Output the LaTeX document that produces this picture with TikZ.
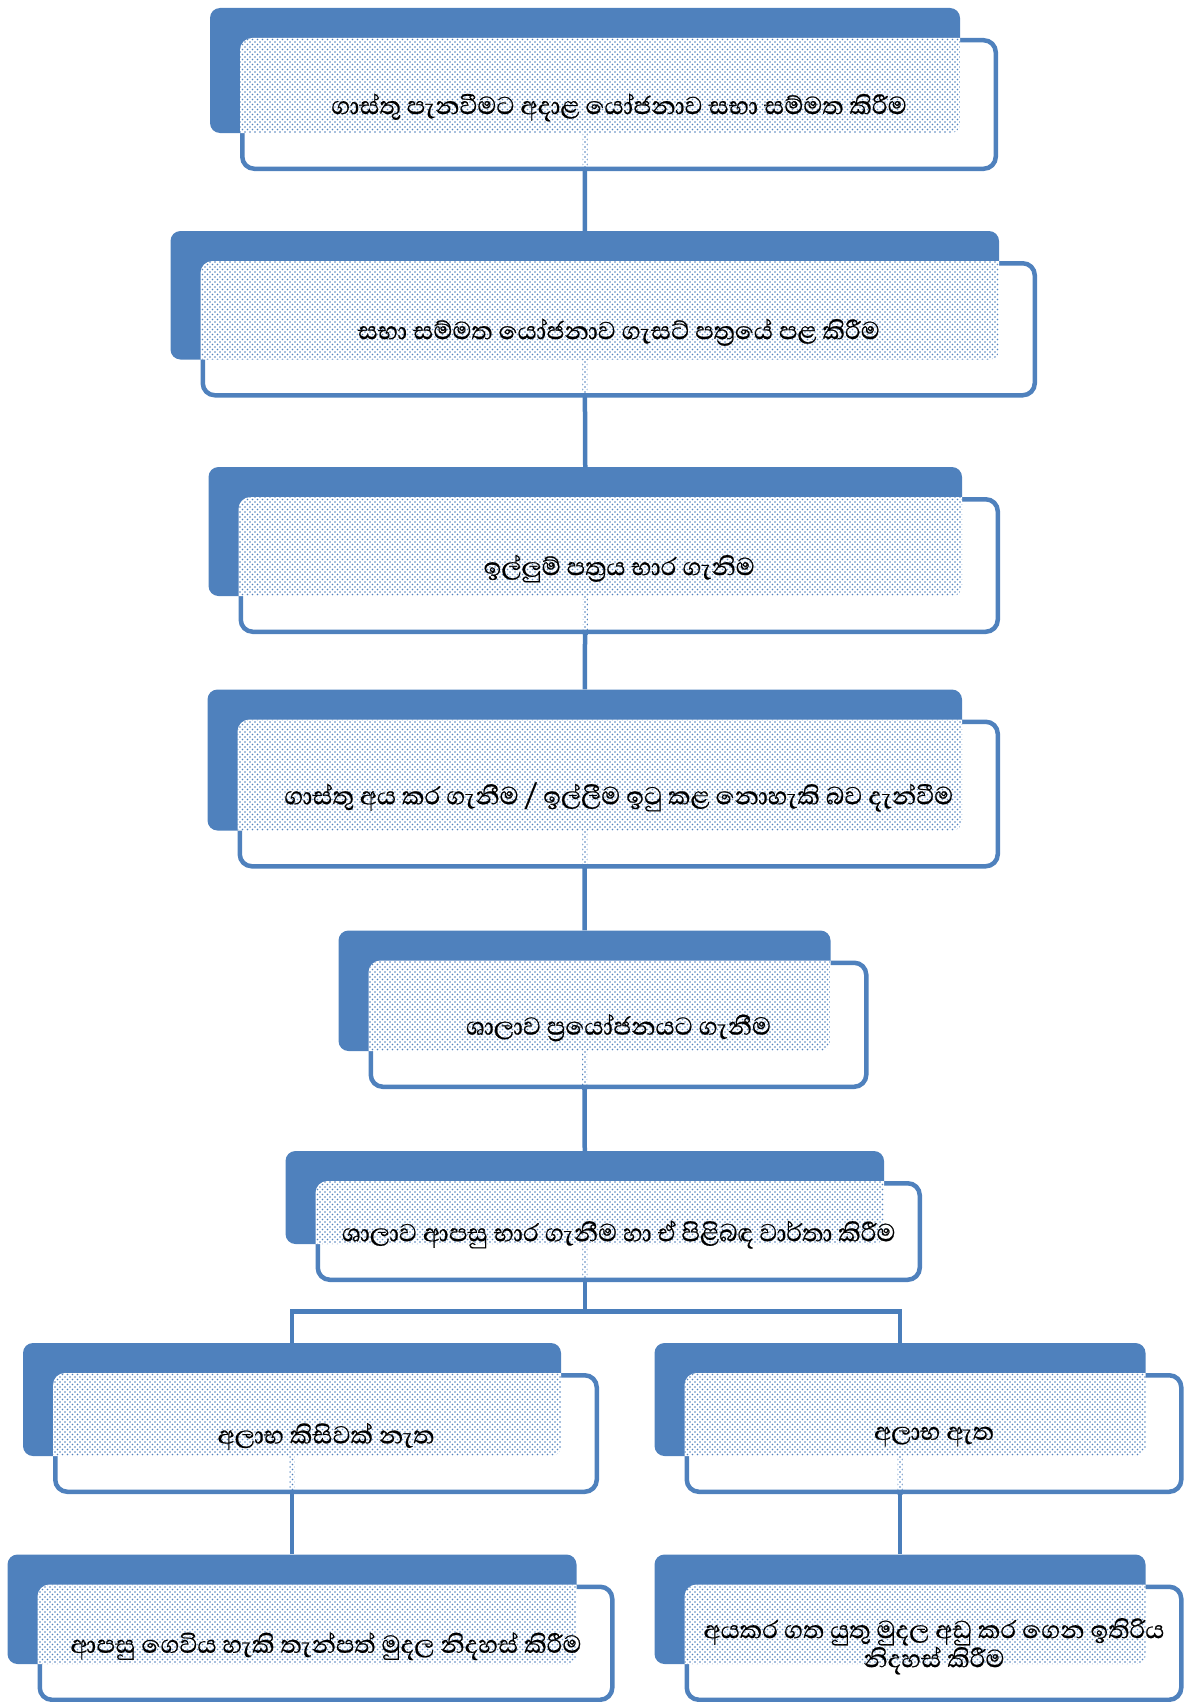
\documentclass[tikz,border=0pt]{standalone}
\usepackage{fontspec}
\newfontfamily\sinhala[Script=Sinhala, FakeBold=0.6]{Abhaya Libre}
\usetikzlibrary{patterns.meta,calc}
\definecolor{accent}{HTML}{4F81BD}
\definecolor{connblue}{HTML}{4A7EBB}
\definecolor{dotblue}{HTML}{4F81BD}
\pgfdeclarelayer{bg}
\pgfsetlayers{bg,main}
\tikzset{
  backbox/.style={draw=none, fill=accent, rounded corners=10pt, inner sep=0pt},
  frontbox/.style={draw=accent, line width=4.5pt, fill=white, rounded corners=12pt, inner sep=0pt},
  steplabel/.style={font=\sinhala\fontsize{31.5}{29}\selectfont, align=center, inner sep=0pt},
  conn/.style={draw=connblue, line width=4.5pt},
  dotfill/.style={pattern={Dots[distance=5pt, radius=0.9pt]}, pattern color=dotblue},
  dotfilltwo/.style={pattern={Dots[distance=5pt, radius=0.9pt, xshift=2.5pt, yshift=2.5pt]}, pattern color=dotblue},
}
\newcommand\flowitem[6]{%
  \node[backbox, minimum width={#4-#2}, minimum height={#5-#3}] (#1b) at ({(#2+#4)/2},{(#3+#5)/2}) {};
  \node[frontbox, minimum width={#4-#2+3.5}, minimum height={#5-#3+3.5}] (#1) at ({(#2+#4)/2+34},{(#3+#5)/2+34}) {};
  \begin{scope}
    \clip[rounded corners=12pt] (#1.south west) rectangle (#1.north east);
    \fill[white, rounded corners=10pt] (#1b.south west) rectangle (#1b.north east);
    \fill[dotfill, rounded corners=10pt] (#1b.south west) rectangle (#1b.north east);
    \fill[dotfilltwo, rounded corners=10pt] (#1b.south west) rectangle (#1b.north east);
  \end{scope}
  \node[steplabel] (#1t) at ([yshift=-3pt]#1.center) {#6};
}
\newcommand\dotseg[1]{%
  \path (#1b.south) ++(-2.5,0) coordinate (#1dl);
  \path (#1b.south) ++(2.5,0) coordinate (#1dr);
  \fill[dotfill] (#1dl) rectangle (#1dr |- #1.south);
  \fill[dotfilltwo] (#1dl) rectangle (#1dr |- #1.south);
}
\begin{document}
\begin{tikzpicture}[x=1pt,y=-1pt]
\useasboundingbox (0,0) rectangle (1191,1702);
\flowitem{s1}{210}{8}{960}{133}{ගාස්තු පැනවීමට අදාළ යෝජනාව සභා සම්මත කිරීම}
\flowitem{s2}{170.5}{231}{999}{359.5}{සභා සම්මත යෝජනාව ගැසට් පත්‍රයේ පළ කිරීම}
\flowitem{s3}{208.5}{467}{962}{596}{ඉල්ලුම් පත්‍රය භාර ගැනිම}
\flowitem{s4}{207.5}{689.5}{962}{830.5}{ගාස්තු අය කර ගැනීම / ඉල්ලීම ඉටු කළ නොහැකි බව දැන්වීම}
\flowitem{s5}{338.5}{930.5}{830.5}{1051}{ශාලාව ප්‍රයෝජනයට ගැනීම}
\flowitem{s6}{285.5}{1151}{884}{1244}{ශාලාව ආපසු භාර ගැනීම හා ඒ පිළිබඳ වාර්තා කිරීම}
\flowitem{s7}{23}{1343}{561}{1456}{අලාභ කිසිවක් නැත}
\flowitem{s8}{654.5}{1343}{1145.5}{1456}{අලාභ ඇත}
\flowitem{s9}{7.5}{1554.5}{576.5}{1664}{ආපසු ගෙවිය හැකි තැන්පත් මුදල නිදහස් කිරීම}
\flowitem{s10}{654.5}{1554.5}{1145.5}{1664}{අයකර ගත යුතු මුදල අඩු කර ගෙන ඉතිරිය\\නිදහස් කිරීම}
\dotseg{s1}\dotseg{s2}\dotseg{s3}\dotseg{s4}\dotseg{s5}\dotseg{s6}\dotseg{s7}\dotseg{s8}
\coordinate (jn) at (585,1311.5);
\begin{pgfonlayer}{bg}
  \draw[conn] (s1b.south) -- (s2b.north);
  \draw[conn] (s2b.south) -- (s3b.north);
  \draw[conn] (s3b.south) -- (s4b.north);
  \draw[conn] (s4b.south) -- (s5b.north);
  \draw[conn] (s5b.south) -- (s6b.north);
  \draw[conn] (s6b.south) -- (s6b.south |- jn) -| (s7b.north);
  \draw[conn] (s6b.south |- jn) -| (s8b.north);
  \draw[conn] (s7b.south) -- (s9b.north);
  \draw[conn] (s8b.south) -- (s10b.north);
\end{pgfonlayer}
\end{tikzpicture}
\end{document}
